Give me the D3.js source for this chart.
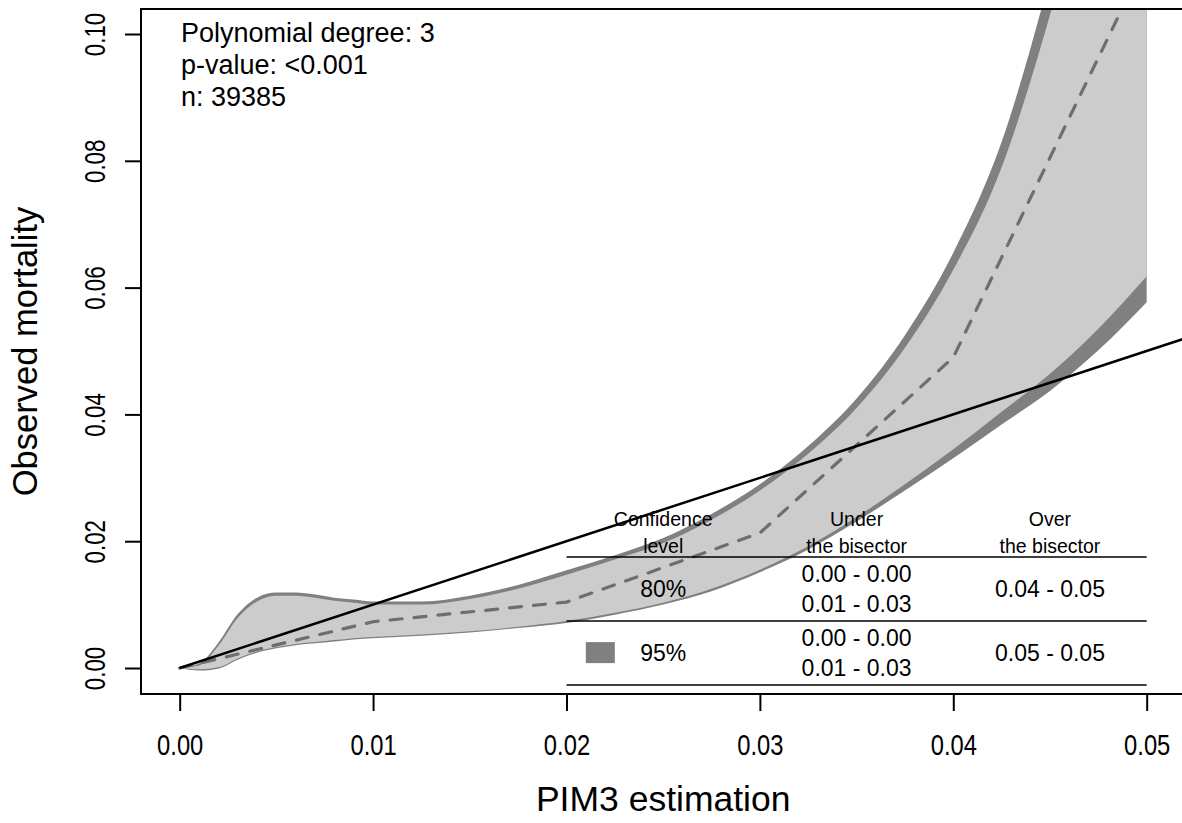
<!DOCTYPE html>
<html>
<head>
<meta charset="utf-8">
<script src="https://cdn.jsdelivr.net/npm/d3@7"></script>
<style>
  html, body { margin: 0; padding: 0; background: #fff; }
  svg { display: block; font-family: "Liberation Sans", Arial, sans-serif; }
</style>
</head>
<body>
<svg id="chart" width="1182" height="823"></svg>
<script>
// ---------------- data ----------------
const bandX   = [0, 0.001, 0.002, 0.003, 0.004, 0.005, 0.006, 0.007, 0.008, 0.009, 0.010, 0.0125, 0.015, 0.0175, 0.020, 0.0225, 0.025, 0.0275, 0.030, 0.0325, 0.035, 0.0375, 0.040, 0.0425, 0.045, 0.0475, 0.050];
const upper95 = [0, 0.0007, 0.0040, 0.0085, 0.0111, 0.0119, 0.0119, 0.0116, 0.0111, 0.0108, 0.0105, 0.0105, 0.0114, 0.0131, 0.0154, 0.0178, 0.0205, 0.0243, 0.0290, 0.0350, 0.0425, 0.0525, 0.0655, 0.0830, 0.1090, 0.1400, 0.1780];
const upper80 = [0, 0.0004, 0.0035, 0.0079, 0.0105, 0.0114, 0.0114, 0.0111, 0.0106, 0.0103, 0.0100, 0.0100, 0.0109, 0.0125, 0.0147, 0.0171, 0.0197, 0.0234, 0.0280, 0.0338, 0.0410, 0.0505, 0.0628, 0.0790, 0.1030, 0.1320, 0.1670];
const lower80 = [0, -0.0002, 0.0001, 0.0015, 0.0026, 0.0033, 0.0038, 0.0041, 0.0044, 0.0047, 0.0049, 0.0053, 0.0058, 0.0065, 0.0074, 0.0087, 0.0103, 0.0125, 0.0155, 0.0192, 0.0238, 0.0290, 0.0345, 0.0404, 0.0464, 0.0535, 0.0618];
const lower95 = [0, -0.0004, -0.0001, 0.0013, 0.0024, 0.0031, 0.0036, 0.0039, 0.0042, 0.0045, 0.0047, 0.0051, 0.0056, 0.0063, 0.0071, 0.0084, 0.0100, 0.0121, 0.0151, 0.0187, 0.0231, 0.0280, 0.0331, 0.0384, 0.0437, 0.0501, 0.0577];

const meanX = [0, 0.010, 0.020, 0.030, 0.040, 0.050];
const meanY = [0, 0.0073, 0.0104, 0.0213, 0.0490, 0.1120];

const xTicks = [0, 0.01, 0.02, 0.03, 0.04, 0.05];
const yTicks = [0, 0.02, 0.04, 0.06, 0.08, 0.10];

const infoLines = ["Polynomial degree: 3", "p-value: <0.001", "n: 39385"];

const tableHeaders = [["Confidence", "level"], ["Under", "the bisector"], ["Over", "the bisector"]];
const tableLevels  = ["80%", "95%"];
const tableUnder   = [["0.00 - 0.00", "0.01 - 0.03"], ["0.00 - 0.00", "0.01 - 0.03"]];
const tableOver    = ["0.04 - 0.05", "0.05 - 0.05"];
const tableColX    = [0.025, 0.035, 0.045];
const tableLineY   = [0.0175, 0.0074, -0.0027];

// ---------------- setup ----------------
const svg = d3.select("#chart");
const L = 141, T = 9, B = 694;
const x = d3.scaleLinear().domain([-0.002, 0.052]).range([L, L + 0.054 * 19340]);
const y = d3.scaleLinear().domain([-0.0041, 0.1039]).range([B, B - 0.108 * 6340]);
const R = x(0.052);

svg.append("defs").append("clipPath").attr("id", "plotclip")
  .append("rect").attr("x", L).attr("y", T).attr("width", R - L).attr("height", B - T);

// legend swatches (underneath the bands)
const swatchColors = ["#cccccc", "#808080"];
const swG = svg.append("g");
tableLevels.forEach((lv, r) => {
  const yMid = (y(tableLineY[r]) + y(tableLineY[r + 1])) / 2;
  swG.append("rect").attr("x", x(0.0210)).attr("y", yMid - 11)
    .attr("width", x(0.0225) - x(0.0210)).attr("height", 21)
    .attr("fill", swatchColors[r]);
});

const plot = svg.append("g").attr("clip-path", "url(#plotclip)");

const band95 = bandX.map((d, i) => ({x: d, lo: lower95[i], hi: upper95[i]}));
const band80 = bandX.map((d, i) => ({x: d, lo: lower80[i], hi: upper80[i]}));

const area = d3.area().x(d => x(d.x)).y0(d => y(d.lo)).y1(d => y(d.hi)).curve(d3.curveMonotoneX);

plot.append("path").datum(band95).attr("d", area).attr("fill", "#808080");
plot.append("path").datum(band80).attr("d", area).attr("fill", "#cccccc");

// table lines
const tbl = svg.append("g");
tableLineY.forEach(v => {
  tbl.append("line").attr("x1", x(0.02)).attr("x2", x(0.05))
    .attr("y1", y(v)).attr("y2", y(v)).attr("stroke", "#000").attr("stroke-width", 1.5);
});

// mean dashed line
const meanData = meanX.map((d, i) => ({x: d, y: meanY[i]}));
plot.append("path").datum(meanData)
  .attr("d", d3.line().x(d => x(d.x)).y(d => y(d.y)))
  .attr("fill", "none").attr("stroke", "#6e6e6e").attr("stroke-width", 3.2)
  .attr("stroke-dasharray", "12,12").attr("stroke-linecap", "round");

// bisector (starts at the origin)
plot.append("line")
  .attr("x1", x(0)).attr("y1", y(0))
  .attr("x2", x(0.053)).attr("y2", y(0.053))
  .attr("stroke", "#000").attr("stroke-width", 2.5);

// table text
tableHeaders.forEach((h, i) => {
  h.forEach((t, j) => {
    tbl.append("text").attr("x", x(tableColX[i])).attr("y", 526 + j * 27)
      .attr("text-anchor", "middle").attr("font-size", 19.5).attr("fill", "#000").text(t);
  });
});
tableLevels.forEach((lv, r) => {
  const yMid = (y(tableLineY[r]) + y(tableLineY[r + 1])) / 2;
  tbl.append("text").attr("x", x(tableColX[0])).attr("y", yMid + 8)
    .attr("text-anchor", "middle").attr("font-size", 23).text(lv);
  tableUnder[r].forEach((t, j) => {
    tbl.append("text").attr("x", x(tableColX[1])).attr("y", yMid - 7 + j * 30)
      .attr("text-anchor", "middle").attr("font-size", 23).text(t);
  });
  tbl.append("text").attr("x", x(tableColX[2])).attr("y", yMid + 8)
    .attr("text-anchor", "middle").attr("font-size", 23).text(tableOver[r]);
});

// info text
infoLines.forEach((t, i) => {
  svg.append("text").attr("x", 181).attr("y", 42 + i * 32)
    .attr("font-size", 27).attr("fill", "#000").text(t);
});

// box
svg.append("path")
  .attr("d", `M${R},${T}H${L}V${B}H${R}`)
  .attr("fill", "none").attr("stroke", "#000").attr("stroke-width", 2);

// x axis
const xa = svg.append("g").attr("transform", `translate(0,${B})`)
  .call(d3.axisBottom(x).tickValues(xTicks).tickSize(17).tickFormat(d3.format(".2f")));
xa.select(".domain").attr("d", `M${x(0)},0H${x(0.05)}`).attr("stroke-width", 2);
xa.selectAll(".tick line").attr("stroke-width", 2);
xa.selectAll(".tick text")
  .attr("y", null).attr("dy", null)
  .attr("transform", "translate(0,61) scale(0.82,1)")
  .attr("font-size", 29)
  .attr("font-family", "Liberation Sans, Arial, sans-serif").attr("fill", "#000");

// y axis
const ya = svg.append("g").attr("transform", `translate(${L},0)`)
  .call(d3.axisLeft(y).tickValues(yTicks).tickSize(16).tickFormat(d3.format(".2f")));
ya.select(".domain").attr("d", `M0,${y(0)}V${y(0.1)}`).attr("stroke-width", 2);
ya.selectAll(".tick line").attr("stroke-width", 2);
ya.selectAll(".tick text")
  .attr("x", null).attr("dy", null).attr("y", null)
  .attr("transform", "translate(-36,0) rotate(-90) scale(0.77,1)")
  .attr("text-anchor", "middle").attr("font-size", 29)
  .attr("font-family", "Liberation Sans, Arial, sans-serif").attr("fill", "#000");

// axis titles
svg.append("text").attr("x", (L + R) / 2).attr("y", 811).attr("text-anchor", "middle")
  .attr("font-size", 35.5).text("PIM3 estimation");
svg.append("text").attr("transform", `translate(37,${(T + B) / 2}) rotate(-90)`)
  .attr("text-anchor", "middle").attr("font-size", 34.5).text("Observed mortality");
</script>
</body>
</html>
